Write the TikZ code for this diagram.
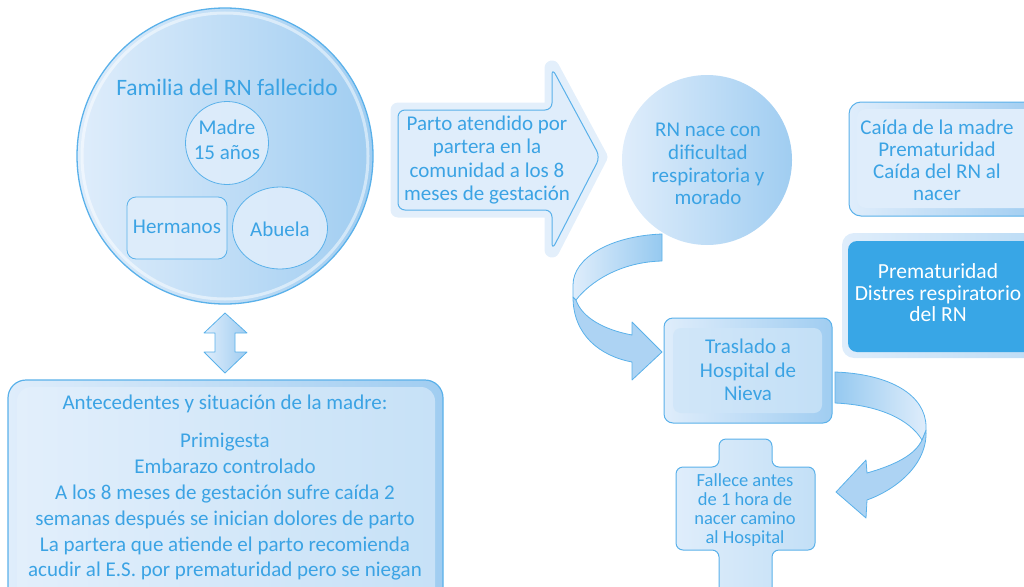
\documentclass[tikz,border=0pt]{standalone}
\usepackage{fontspec}
\setmainfont{Carlito}
\usetikzlibrary{shapes.geometric}
\definecolor{tb}{HTML}{3BA3E4}
\definecolor{bd}{HTML}{5AB1EA}
\definecolor{lf}{HTML}{DFEDFB}
\definecolor{mf}{HTML}{BCDCF5}
\definecolor{df}{HTML}{A0CDF1}
\definecolor{dk}{HTML}{38A6E6}
\definecolor{halo}{HTML}{E3EFFB}
\tikzset{
  lbl/.style={text=tb, align=center, inner sep=0pt, font=\fontsize{21}{23.5}\selectfont},
  ribbon/.style={draw=bd, line width=0.8pt, line join=round},
  boxline/.style={draw=bd, line width=1pt},
}
\begin{document}
\begin{tikzpicture}[x=1pt,y=-1pt]
\useasboundingbox (0,0) rectangle (1024,586);
\clip (0,0) rectangle (1024,586);

% ---------- Family circle ----------
\node (fam) [circle, boxline, line width=1.3pt, minimum size=296pt, outer sep=0pt, left color=lf, right color=df] at (225,156) {};
\draw[white, opacity=0.5, line width=3pt] (fam.center) circle (143);
\node (famt) [lbl, font=\fontsize{23.5}{25}\selectfont] at (227,87) {Familia del RN fallecido};
\node (madre) [circle, draw=bd, line width=0.8pt, fill=lf, fill opacity=0.9, minimum size=83pt, inner sep=0pt] at (227,143) {};
\node [lbl, font=\fontsize{21}{25}\selectfont] at (227,140) {Madre\\15 años};
\node (herm) [draw=bd, line width=0.8pt, fill=lf, fill opacity=0.9, rounded corners=9pt, minimum width=100pt, minimum height=62pt] at (177,228) {};
\node [lbl] at (177,227) {Hermanos};
\node (abu) [ellipse, draw=bd, line width=0.8pt, fill=lf, fill opacity=0.9, minimum width=95pt, minimum height=82pt, inner sep=0pt] at (280,228) {};
\node [lbl] at (280,229) {Abuela};

% ---------- double arrow ----------
\path[ribbon, left color=lf, right color=df]
  (225,313) -- (247,333) -- (235,333) -- (235,352) -- (247,352) -- (225,373)
  -- (204,352) -- (215,352) -- (215,333) -- (204,333) -- cycle;

% ---------- bottom box ----------
\path[boxline, line width=1.2pt, left color=lf, right color=df, rounded corners=18pt] (8,380) rectangle (443,610);
\path[rounded corners=14pt, left color=lf!90!white, right color=mf!70!lf] (17,387) rectangle (435,610);
\node (ante) [lbl] at (225,404) {Antecedentes y situación de la madre:};
\node (antb) [lbl, font=\fontsize{21}{25.8}\selectfont] at (225,507) {Primigesta\\Embarazo controlado\\A los 8 meses de gestación sufre caída 2\\semanas después se inician dolores de parto\\La partera que atiende el parto recomienda\\acudir al E.S. por prematuridad pero se niegan};

% ---------- Parto block arrow ----------
\def\partopath{(398,110) -- (552,110) -- (552,68) -- (600,157) -- (552,250) -- (552,210) -- (398,210) -- cycle}
\path[draw=halo, line width=15pt, line join=round, fill=halo] \partopath;
\path[draw=bd, line width=1pt, fill=lf, rounded corners=7pt] \partopath;
\node (parto) [lbl] at (487,160) {Parto atendido por\\partera en la\\comunidad a los 8\\meses de gestación};

% ---------- RN circle ----------
\node (rn) [circle, minimum size=170pt, left color=lf, right color=df, outer sep=0pt] at (707,160) {};
\node [lbl, font=\fontsize{21}{22.7}\selectfont] at (708,164) {RN nace con\\dificultad\\respiratoria y\\morado};

% ---------- curved arrow 1 ----------
\path[ribbon, fill=df!80!lf]
  (573,297) .. controls (573,335) and (600,356) .. (632,362)
  -- (632,380) -- (662,352) -- (632,322) -- (632,335)
  .. controls (605,330) and (582,318) .. (576,300) -- cycle;
\path[ribbon, left color=lf, right color=df!90!dk]
  (662,234) .. controls (610,236) and (573,258) .. (573,285) -- (573,297) -- (576,300)
  .. controls (590,282) and (620,262) .. (662,261) -- cycle;

% ---------- Traslado box ----------
\node (tras) [boxline, rounded corners=9pt, left color=lf, right color=df, minimum width=168pt, minimum height=105pt] at (748,370.5) {};
\path[rounded corners=8pt, left color=lf!60!mf, right color=mf!80!lf] (673,328) rectangle (822,413);
\node [lbl] at (748,370) {Traslado a\\Hospital de\\Nieva};

% ---------- curved arrow 2 ----------
\path[ribbon, fill=df!80!lf]
  (926,430) .. controls (928,465) and (895,490) .. (867,500)
  -- (866,518) -- (836,492) -- (866,460) -- (867,473)
  .. controls (895,465) and (915,455) .. (922,440) -- cycle;
\path[ribbon, left color=df!90!dk, right color=lf]
  (835,372) .. controls (890,374) and (926,395) .. (926,427) -- (926,430) -- (922,440)
  .. controls (910,420) and (880,405) .. (835,403) -- cycle;

% ---------- cross ----------
\path[draw=bd, line width=1pt, rounded corners=7pt, left color=lf, right color=mf!80!lf]
  (719,439) -- (772,439) -- (772,467) -- (815,467) -- (815,550) -- (772,550) -- (772,600)
  -- (719,600) -- (719,550) -- (676,550) -- (676,467) -- (719,467) -- cycle;
\node (fall) [lbl, font=\fontsize{18.5}{19}\selectfont] at (745,510) {Fallece antes\\de 1 hora de\\nacer camino\\al Hospital};

% ---------- Caida box ----------
\path[boxline, rounded corners=12pt, left color=lf, right color=df] (849,102) rectangle (1040,216);
\path[rounded corners=9pt, fill=lf] (857,109) rectangle (1040,208);
\node (caida) [lbl, font=\fontsize{21}{22}\selectfont] at (937,160) {Caída de la madre\\Prematuridad\\Caída del RN al\\nacer};

% ---------- Prematuridad box ----------
\path[rounded corners=12pt, left color=lf, right color=mf] (842,233) rectangle (1040,358);
\path[rounded corners=9pt, fill=dk] (848,241) rectangle (1040,352);
\node (prem) [lbl, text=white, font=\fontsize{21.5}{21.5}\selectfont] at (938,293) {Prematuridad\\Distres respiratorio\\del RN};
\end{tikzpicture}
\end{document}
